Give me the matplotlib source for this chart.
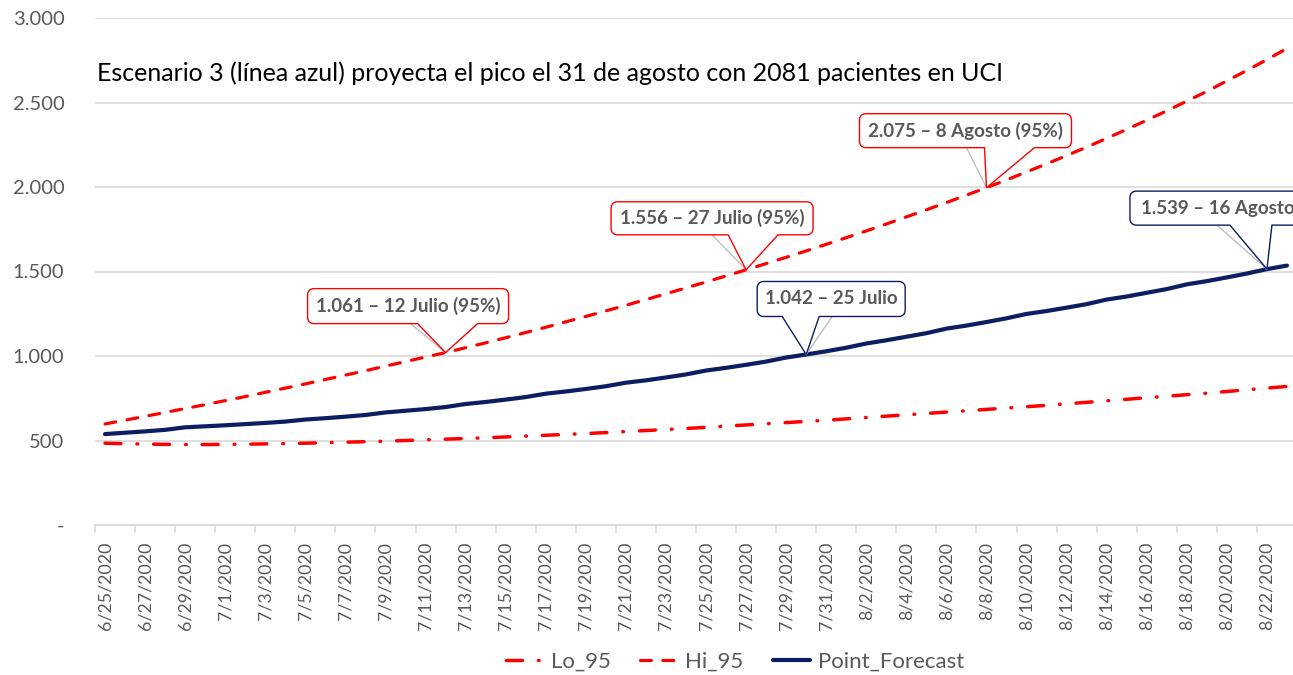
import numpy as np
import pandas as pd
import matplotlib
matplotlib.use('Agg')
import matplotlib.pyplot as plt
import matplotlib.patches as mpatches
import matplotlib.path as mpath
import matplotlib.transforms as mtransforms
from matplotlib.ticker import FixedLocator, FuncFormatter

plt.rcParams['font.family'] = ['Lato', 'DejaVu Sans']

# daily ICU projections, 25 Jun 2020 - 23 Aug 2020
dates = pd.date_range('2020-06-25', '2020-08-23', freq='D')

lo_95 = [484, 481, 479, 477, 476, 476, 477, 478, 480, 482,
         484, 487, 490, 493, 496, 500, 504, 508, 512, 516,
         521, 526, 531, 536, 541, 547, 553, 559, 565, 571,
         578, 585, 592, 599, 606, 613, 620, 628, 636, 644,
         652, 660, 668, 676, 684, 692, 700, 708, 717, 726,
         735, 744, 753, 762, 771, 780, 790, 800, 810, 820]

hi_95 = [598, 620, 643, 666, 689, 712, 736, 760, 785, 810,
         835, 861, 887, 913, 940, 967, 994, 1020, 1049, 1078,
         1108, 1139, 1170, 1202, 1234, 1267, 1300, 1334, 1368, 1403,
         1438, 1474, 1510, 1547, 1584, 1622, 1661, 1700, 1740, 1781,
         1823, 1865, 1908, 1952, 1996, 2042, 2089, 2137, 2186, 2236,
         2288, 2341, 2395, 2451, 2508, 2566, 2628, 2690, 2754, 2820]

point_forecast = [538, 546, 554, 563, 578, 584, 590, 597, 604, 612,
                  624, 632, 641, 651, 666, 676, 686, 698, 716, 728,
                  742, 757, 777, 790, 805, 821, 842, 856, 873, 891,
                  914, 930, 948, 967, 991, 1009, 1028, 1049, 1074, 1093,
                  1114, 1135, 1162, 1180, 1201, 1223, 1249, 1266, 1286, 1307,
                  1334, 1352, 1374, 1396, 1424, 1443, 1465, 1488, 1514, 1535]

title = 'Escenario 3 (línea azul) proyecta el pico el 31 de agosto con 2081 pacientes en UCI'

# callouts: (text, series name, day index)
callouts = [
    ('1.061 – 12 Julio (95%)', 'Hi_95', 17),
    ('1.556 – 27 Julio (95%)', 'Hi_95', 32),
    ('1.042 – 25 Julio', 'Point_Forecast', 35),
    ('2.075 – 8 Agosto (95%)', 'Hi_95', 44),
    ('1.539 – 16 Agosto', 'Point_Forecast', 58),
]
# box (left, right, bottom, top), wedge base (x1, x2) and grey leader start x,
# all in pixels relative to the pointed value (y up)
boxes = [(-138, 63, 29, 64), (-135, 67, 35, 68), (-49, 99, 38, 73),
         (-127, 85, 40, 74), (-137, 39, 44, 78)]
wedges = [(-28, 32), (-18, 32), (-24, 13), (-2, 48), (-37, 5)]
leaders = [-35, -34, 26, -20, -50]

RED = '#ff0000'
NAVY = '#0c1d62'
GRAY = '#595959'
GRID = '#d9d9d9'

series = {'Lo_95': lo_95, 'Hi_95': hi_95, 'Point_Forecast': point_forecast}
colors = {'Hi_95': RED, 'Point_Forecast': NAVY}


def callout_path(box, wedge, r=6):
    L, R, B, T = box
    x1, x2 = wedge

    def arc(cx, cy, a0, a1):
        a = np.deg2rad(np.linspace(a0, a1, 6))
        return list(zip(cx + r * np.cos(a), cy + r * np.sin(a)))

    pts = [(L + r, T), (R - r, T)]
    pts += arc(R - r, T - r, 90, 0)
    pts += [(R, B + r)]
    pts += arc(R - r, B + r, 0, -90)
    pts += [(x2, B), (0, 0), (x1, B), (L + r, B)]
    pts += arc(L + r, B + r, -90, -180)
    pts += [(L, T - r)]
    pts += arc(L + r, T - r, 180, 90)
    pts.append(pts[0])
    codes = [mpath.Path.MOVETO] + [mpath.Path.LINETO] * (len(pts) - 2) + \
            [mpath.Path.CLOSEPOLY]
    return mpath.Path(pts, codes)


fig = plt.figure(figsize=(12.93, 6.75), dpi=100)
ax = fig.add_axes([95 / 1293, 150 / 675, 1202 / 1293, 507 / 675])

x = np.arange(len(dates))
ax.plot(x, lo_95, color=RED, lw=2.5, dashes=(4.6, 4.6, 0.2, 4.6),
        dash_capstyle='round', label='Lo_95', zorder=3)
ax.plot(x, hi_95, color=RED, lw=2.3, dashes=(3.4, 3.6),
        dash_capstyle='round', label='Hi_95', zorder=3)
ax.plot(x, point_forecast, color=NAVY, lw=3.0, solid_capstyle='round',
        label='Point_Forecast', zorder=4)

ax.set_xlim(-0.5, len(dates) - 0.5)
ax.set_ylim(0, 3000)
ax.set_yticks(np.arange(0, 3001, 500))
ax.yaxis.set_major_formatter(FuncFormatter(
    lambda v, p: '-' if v == 0 else f'{int(v):,}'.replace(',', '.')))
ax.grid(axis='y', color=GRID, lw=1.2)
ax.set_axisbelow(True)

ax.set_xticks(x[::2])
ax.set_xticklabels([f'{d.month}/{d.day}/{d.year}' for d in dates[::2]],
                   rotation=90, va='top', ha='center')
ax.xaxis.set_minor_locator(FixedLocator(np.arange(-0.5, len(dates), 2)))
ax.tick_params(axis='x', which='major', length=0, pad=12, labelsize=12.8,
               labelcolor=GRAY)
ax.tick_params(axis='x', which='minor', length=6, color=GRID, width=1.2)
ax.tick_params(axis='y', length=0, pad=22, labelsize=14.5, labelcolor=GRAY)

for side in ['left', 'right', 'top']:
    ax.spines[side].set_visible(False)
ax.spines['bottom'].set_color(GRID)
ax.spines['bottom'].set_linewidth(1.2)

for (text, name, idx), box, wedge, lead in zip(callouts, boxes, wedges, leaders):
    tip = (x[idx], series[name][idx])
    col = colors[name]
    trans = mtransforms.IdentityTransform() + \
        mtransforms.ScaledTranslation(tip[0], tip[1], ax.transData)
    L, R, B, T = box
    ax.plot([lead, 0], [B, 0], color='#bfbfbf', lw=1.0, transform=trans,
            zorder=5, clip_on=False)
    ax.add_patch(mpatches.PathPatch(callout_path(box, wedge), fc='white',
                                    ec=col, lw=1.0, transform=trans,
                                    zorder=6, clip_on=False))
    ax.text((L + R) / 2, (B + T) / 2, text, transform=trans, ha='center',
            va='center', fontsize=13.5, fontweight='bold', color=GRAY,
            zorder=7, clip_on=False)

fig.text(97 / 1293, 1 - 73 / 675, title, fontsize=18, va='center',
         ha='left', color='black')

fig.legend(loc='center', bbox_to_anchor=(735 / 1293, 1 - 662 / 675), ncol=3,
           frameon=False, fontsize=16, labelcolor=GRAY, handlelength=1.7,
           handletextpad=0.35, columnspacing=1.3)

fig.savefig('out.png', dpi=100)
